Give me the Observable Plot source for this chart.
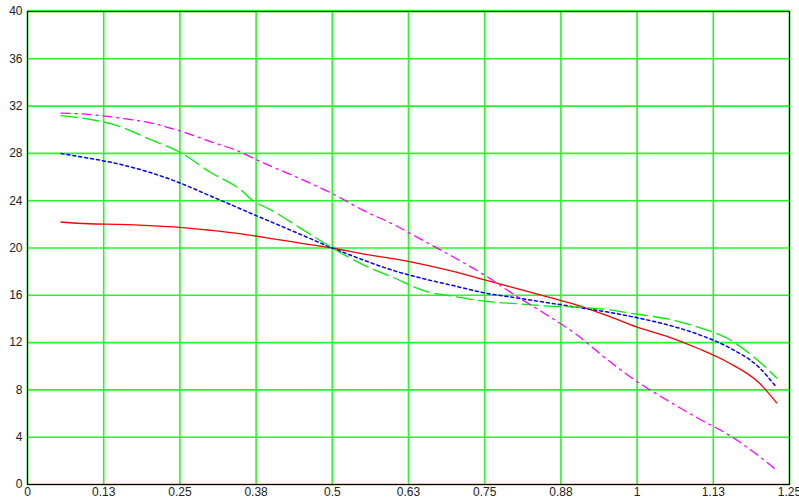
<!DOCTYPE html>
<html>
<head>
<meta charset="utf-8">
<script src="https://cdn.jsdelivr.net/npm/d3@7"></script>
<script src="https://cdn.jsdelivr.net/npm/@observablehq/plot@0.6"></script>
<style>
  html, body { margin: 0; padding: 0; background: #fff; }
  #chart svg { display: block; overflow: visible; }
</style>
</head>
<body>
<div id="chart"></div>
<script>
const xs = [0.055, 0.1, 0.15, 0.2, 0.25, 0.3, 0.35, 0.37, 0.4, 0.45, 0.5, 0.55, 0.6, 0.65, 0.7, 0.75, 0.8, 0.85, 0.9, 0.95, 1.0, 1.05, 1.1, 1.15, 1.2, 1.229];
const redVals =     [22.2, 22.05, 22.0, 21.9, 21.75, 21.5, 21.2, 21.05, 20.8, 20.4, 20.0, 19.5, 19.1, 18.6, 18.0, 17.3, 16.6, 15.9, 15.2, 14.3, 13.3, 12.5, 11.5, 10.3, 8.6, 6.9];
const blueVals =    [28.0, 27.6, 27.1, 26.4, 25.5, 24.4, 23.3, 22.85, 22.2, 21.1, 20.0, 19.0, 18.1, 17.4, 16.8, 16.2, 15.8, 15.4, 15.0, 14.6, 14.1, 13.5, 12.7, 11.6, 9.9, 8.2];
const greenVals =   [31.2, 30.9, 30.3, 29.2, 28.1, 26.4, 24.9, 24.0, 23.2, 21.6, 20.0, 18.6, 17.5, 16.4, 15.9, 15.5, 15.3, 15.1, 15.0, 14.8, 14.4, 14.0, 13.3, 12.3, 10.4, 9.0];
const magentaVals = [31.4, 31.3, 31.0, 30.6, 29.9, 29.0, 28.1, 27.6, 26.9, 25.8, 24.6, 23.2, 22.0, 20.6, 19.2, 17.7, 16.0, 14.4, 12.7, 10.6, 8.7, 7.1, 5.6, 4.2, 2.4, 1.2];

const xTicks = [0, 0.125, 0.25, 0.375, 0.5, 0.625, 0.75, 0.875, 1, 1.125, 1.25];
const xTickLabels = ["0", "0.13", "0.25", "0.38", "0.5", "0.63", "0.75", "0.88", "1", "1.13", "1.25"];
const yTicks = [0, 4, 8, 12, 16, 20, 24, 28, 32, 36, 40];

const mk = vals => xs.map((x, i) => ({x, y: vals[i]}));
const gridColor = "#2af52a";

const chart = Plot.plot({
  width: 799,
  height: 503,
  marginLeft: 27,
  marginRight: 10,
  marginTop: 11,
  marginBottom: 19,
  style: {fontFamily: "'Liberation Sans', Arial, sans-serif", fontSize: "12px", color: "#222", background: "#fff"},
  x: {domain: [0, 1.25], label: null},
  y: {domain: [0, 40], label: null},
  marks: [
    Plot.ruleX(xTicks, {stroke: gridColor, strokeWidth: 1.6}),
    Plot.ruleY(yTicks, {stroke: gridColor, strokeWidth: 1.6}),
    Plot.frame({stroke: "#000", strokeWidth: 1.2}),
    Plot.ruleY([40], {stroke: gridColor, strokeWidth: 1.6, dy: -1}),
    Plot.axisX({ticks: xTicks, tickFormat: (d, i) => xTickLabels[i], tickSize: 0, tickPadding: 3, label: null}),
    Plot.axisY({ticks: yTicks, tickSize: 0, tickPadding: 5, label: null}),
    Plot.line(mk(redVals), {x: "x", y: "y", stroke: "#ff0000", strokeWidth: 1.3, curve: "monotone-x"}),
    Plot.line(mk(blueVals), {x: "x", y: "y", stroke: "#0000ff", strokeWidth: 1.5, strokeDasharray: "3,3", curve: "monotone-x"}),
    Plot.line(mk(greenVals), {x: "x", y: "y", stroke: "#00ee00", strokeWidth: 1.3, strokeDasharray: "16,6", curve: "monotone-x"}),
    Plot.line(mk(magentaVals), {x: "x", y: "y", stroke: "#ff00ff", strokeWidth: 1.3, strokeDasharray: "9,5,2,5", curve: "monotone-x"})
  ]
});
document.getElementById("chart").appendChild(chart);
</script>
</body>
</html>
